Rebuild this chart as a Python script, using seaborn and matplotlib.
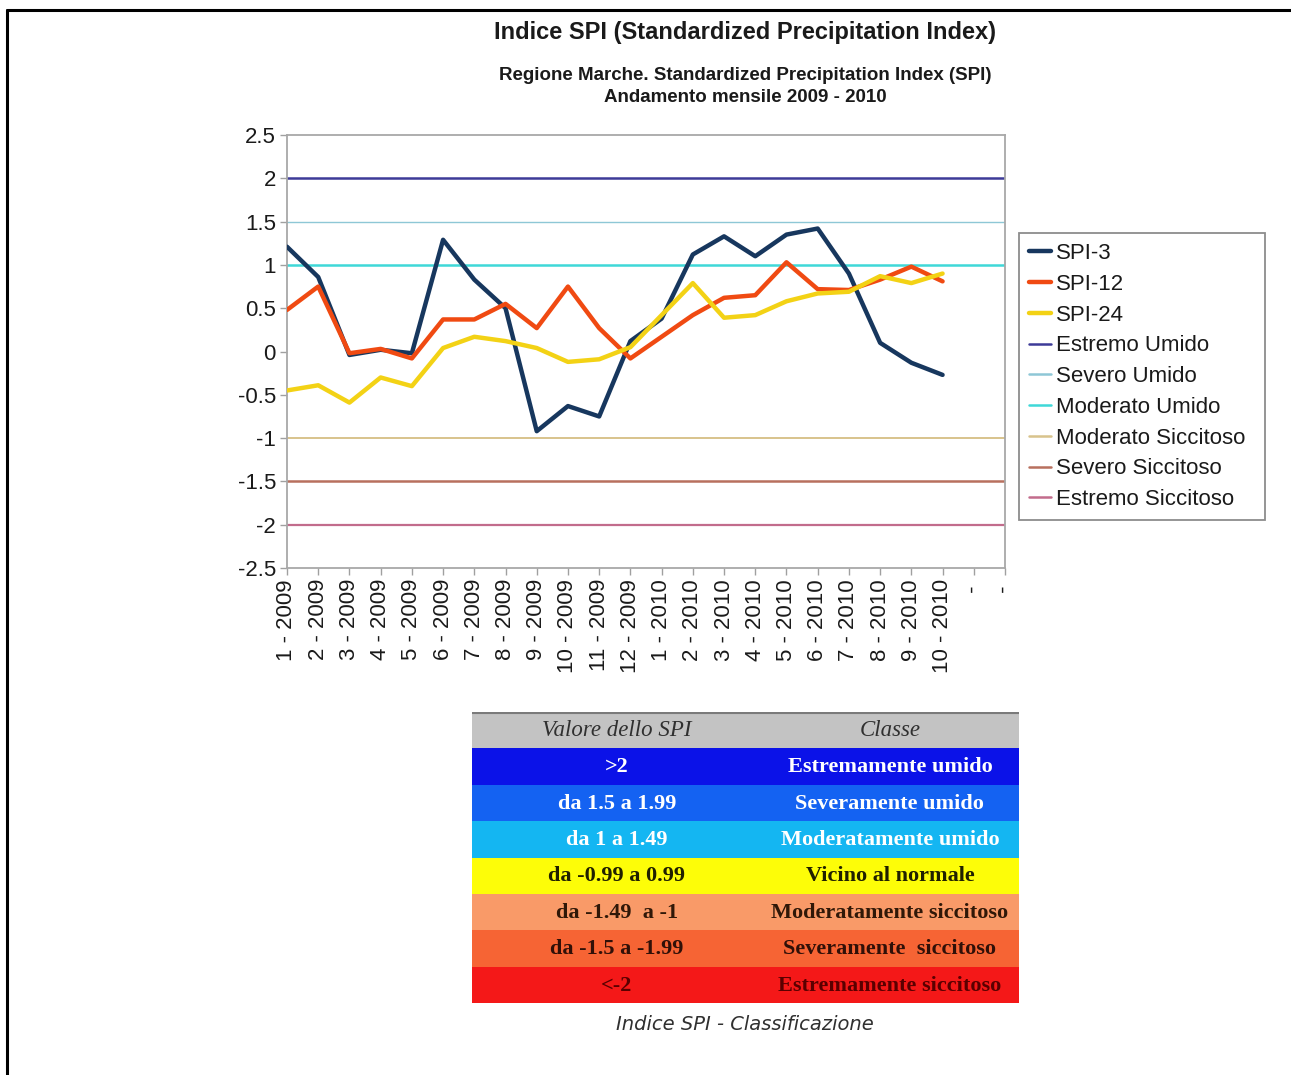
import numpy as np
import pandas as pd
import matplotlib
matplotlib.use("Agg")
import matplotlib.pyplot as plt
from matplotlib.patches import Rectangle
from matplotlib.lines import Line2D
import seaborn as sns

# Monthly categories (the last two slots of the sheet are empty)
months = ["1 - 2009", "2 - 2009", "3 - 2009", "4 - 2009", "5 - 2009", "6 - 2009",
          "7 - 2009", "8 - 2009", "9 - 2009", "10 - 2009", "11 - 2009", "12 - 2009",
          "1 - 2010", "2 - 2010", "3 - 2010", "4 - 2010", "5 - 2010", "6 - 2010",
          "7 - 2010", "8 - 2010", "9 - 2010", "10 - 2010", " - ", " - "]

spi3 = [1.21, 0.86, -0.04, 0.02, -0.02, 1.29, 0.83, 0.50, -0.92, -0.63, -0.75, 0.12,
        0.38, 1.12, 1.33, 1.10, 1.35, 1.42, 0.90, 0.10, -0.13, -0.27]
spi12 = [0.48, 0.75, -0.02, 0.03, -0.08, 0.37, 0.37, 0.55, 0.27, 0.75, 0.27, -0.08,
         0.17, 0.42, 0.62, 0.65, 1.03, 0.72, 0.71, 0.83, 0.98, 0.81]
spi24 = [-0.45, -0.39, -0.59, -0.30, -0.40, 0.04, 0.17, 0.12, 0.04, -0.12, -0.09, 0.05,
         0.42, 0.79, 0.39, 0.42, 0.58, 0.67, 0.69, 0.87, 0.79, 0.90]

series_names = ["SPI-3", "SPI-12", "SPI-24"]
series_colors = ["#17375e", "#f04a12", "#f3d215"]

# Class thresholds drawn as horizontal reference lines
threshold_names = ["Estremo Umido", "Severo Umido", "Moderato Umido",
                   "Moderato Siccitoso", "Severo Siccitoso", "Estremo Siccitoso"]
threshold_values = [2.0, 1.5, 1.0, -1.0, -1.5, -2.0]
threshold_colors = ["#3d3b98", "#8ec7d6", "#3fd8d8", "#d8c38c", "#b8705e", "#c26c8c"]
threshold_widths = [1.8, 1.0, 1.8, 1.4, 1.8, 1.6]

# Classification table
table_header = ["Valore dello SPI", "Classe"]
table_ranges = [">2", "da 1.5 a 1.99", "da 1 a 1.49", "da -0.99 a 0.99",
                "da -1.49  a -1", "da -1.5 a -1.99", "<-2"]
table_classes = ["Estremamente umido", "Severamente umido", "Moderatamente umido",
                 "Vicino al normale", "Moderatamente siccitoso", "Severamente  siccitoso",
                 "Estremamente siccitoso"]
table_fill = ["#0b12e8", "#1462f2", "#14b6f2", "#fdfd08", "#f99a68", "#f66434", "#f41818"]
table_text = ["white", "white", "white", "#202000", "#301808", "#301008", "#5a0000"]

sns.set_theme(style="white")
plt.rcParams["font.family"] = ["Liberation Sans", "DejaVu Sans"]

W, H = 1291, 1075
fig = plt.figure(figsize=(W / 100, H / 100), dpi=100)
fig.patch.set_facecolor("white")


def fx(px):
    return px / W


def fy(py):
    return 1 - py / H


ax = fig.add_axes([fx(287), fy(568), fx(1005) - fx(287), fy(135) - fy(568)])

n = len(spi3)
df = pd.DataFrame({
    "pos": list(range(n)) * 3,
    "value": spi3 + spi12 + spi24,
    "serie": [s for s in series_names for _ in range(n)],
})
sns.lineplot(data=df, x="pos", y="value", hue="serie", hue_order=series_names,
             palette=series_colors, linewidth=3.2, ax=ax, zorder=3, legend=False)

for name, val, col, lw in zip(threshold_names, threshold_values, threshold_colors, threshold_widths):
    ax.axhline(val, color=col, linewidth=lw, zorder=2)

ax.set_xlim(0, len(months) - 1)
ax.set_ylim(-2.5, 2.5)
ax.set_yticks(np.arange(-2.5, 2.51, 0.5))
ax.set_yticklabels([f"{v:g}" for v in np.arange(-2.5, 2.51, 0.5)])
ax.set_xticks(range(len(months)))
ax.set_xticklabels(months, rotation=90, va="top", ha="center")
ax.set_xlabel("")
ax.set_ylabel("")
ax.tick_params(axis="both", which="major", direction="out", length=5, width=1,
               color="#a0a0a0", labelsize=16, labelcolor="#1a1a1a", pad=3,
               bottom=True, left=True)
for sp in ax.spines.values():
    sp.set_color("#a8a8a8")
    sp.set_linewidth(1.3)

handles = [Line2D([], [], color=c, linewidth=3.2) for c in series_colors]
handles += [Line2D([], [], color=c, linewidth=1.8) for c in threshold_colors]
labels = series_names + threshold_names
leg = fig.legend(handles, labels, loc="upper left",
                 bbox_to_anchor=(fx(1019), fy(522), fx(1265) - fx(1019), fy(233) - fy(522)),
                 bbox_transform=fig.transFigure, mode="expand",
                 fontsize=16, frameon=True, fancybox=False, borderpad=0.45,
                 handlelength=1.0, handletextpad=0.2, labelspacing=0.44,
                 borderaxespad=0.0)
leg.get_frame().set_edgecolor("#707070")
leg.get_frame().set_linewidth(1.3)
for t in leg.get_texts():
    t.set_color("#1a1a1a")

# Titles
fig.text(fx(745), fy(32), "Indice SPI (Standardized Precipitation Index)",
         ha="center", va="center", fontsize=17, fontweight="bold", color="#1a1a1a")
fig.text(fx(745), fy(75), "Regione Marche. Standardized Precipitation Index (SPI)",
         ha="center", va="center", fontsize=13.5, fontweight="bold", color="#1a1a1a")
fig.text(fx(745), fy(98), "Andamento mensile 2009 - 2010",
         ha="center", va="center", fontsize=13.5, fontweight="bold", color="#1a1a1a")

# Classification table
tab = fig.add_axes([fx(472), fy(1003), fx(1019) - fx(472), fy(712) - fy(1003)])
tab.set_xlim(0, 1)
tab.set_ylim(8, 0)
tab.axis("off")
tab.add_patch(Rectangle((0, 0), 1, 1, facecolor="#c3c3c3", edgecolor="none"))
tab.plot([0, 1], [0.02, 0.02], color="#7a7a7a", linewidth=1.5)
tab.text(0.265, 0.5, table_header[0], ha="center", va="center", fontsize=16.5,
         family="Liberation Serif", style="italic", color="#303030")
tab.text(0.764, 0.5, table_header[1], ha="center", va="center", fontsize=16.5,
         family="Liberation Serif", style="italic", color="#303030")
for i, (rng, cls, fc, tc) in enumerate(zip(table_ranges, table_classes, table_fill, table_text)):
    y0 = i + 1
    tab.add_patch(Rectangle((0, y0), 1, 1, facecolor=fc, edgecolor="none"))
    tab.text(0.265, y0 + 0.52, rng, ha="center", va="center", fontsize=16,
             family="Liberation Serif", fontweight="bold", color=tc)
    tab.text(0.764, y0 + 0.52, cls, ha="center", va="center", fontsize=16,
             family="Liberation Serif", fontweight="bold", color=tc)

fig.text(fx(745), fy(1024), "Indice SPI - Classificazione", ha="center", va="center",
         fontsize=14, style="italic", family="DejaVu Sans", color="#303030")

# Page frame
fig.add_artist(Line2D([fx(7), fx(7)], [fy(10), 0], transform=fig.transFigure,
                      color="black", linewidth=2.2))
fig.add_artist(Line2D([fx(7), 1], [fy(10), fy(10)], transform=fig.transFigure,
                      color="black", linewidth=2.2))

fig.savefig("out.png", dpi=100, facecolor="white")
